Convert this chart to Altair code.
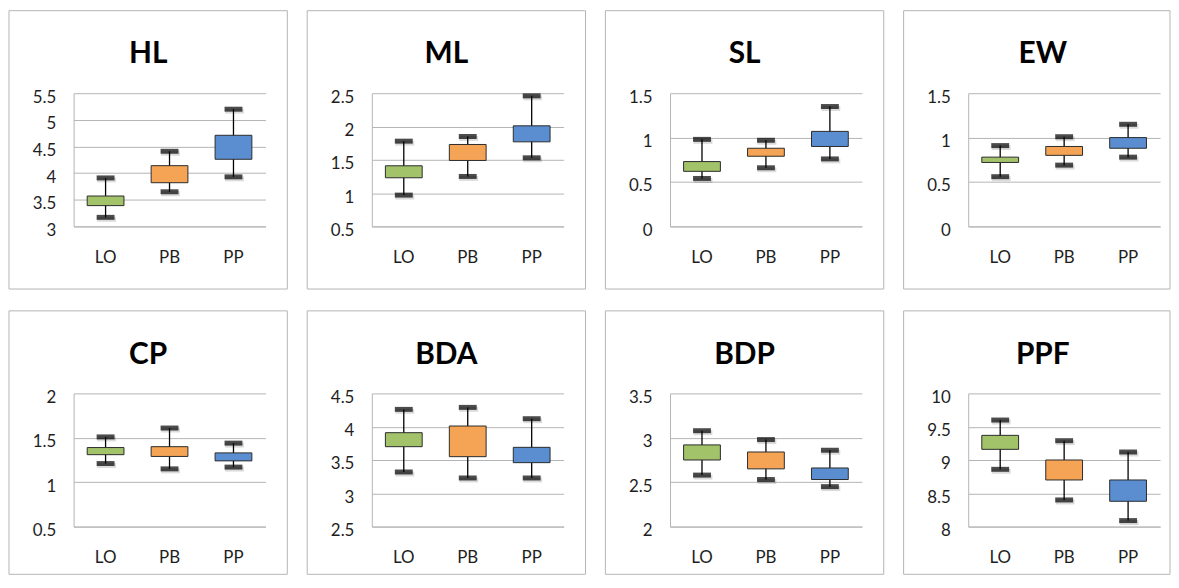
import altair as alt
import pandas as pd

panels = ["HL", "ML", "SL", "EW", "CP", "BDA", "BDP", "PPF"]
groups = ["LO", "PB", "PP"]
colors = ["#a2c36a", "#f5a455", "#5a8ed0"]

y_min = [3, 0.5, 0, 0, 0.5, 2.5, 2, 8]
y_max = [5.5, 2.5, 1.5, 1.5, 2, 4.5, 3.5, 10]
y_step = [0.5, 0.5, 0.5, 0.5, 0.5, 0.5, 0.5, 0.5]

whisker_low = [
    [3.17, 3.65, 3.93],
    [0.97, 1.25, 1.53],
    [0.54, 0.66, 0.76],
    [0.56, 0.69, 0.78],
    [1.21, 1.15, 1.17],
    [3.32, 3.23, 3.23],
    [2.58, 2.53, 2.45],
    [8.86, 8.40, 8.09],
]
box_low = [
    [3.39, 3.82, 4.26],
    [1.23, 1.49, 1.77],
    [0.62, 0.79, 0.90],
    [0.72, 0.80, 0.88],
    [1.31, 1.29, 1.24],
    [3.70, 3.55, 3.46],
    [2.75, 2.65, 2.53],
    [9.16, 8.70, 8.38],
]
box_high = [
    [3.57, 4.14, 4.71],
    [1.41, 1.73, 2.01],
    [0.73, 0.88, 1.07],
    [0.78, 0.90, 1.00],
    [1.39, 1.40, 1.33],
    [3.91, 4.01, 3.69],
    [2.92, 2.84, 2.66],
    [9.37, 9.00, 8.70],
]
whisker_high = [
    [3.91, 4.41, 5.20],
    [1.78, 1.85, 2.46],
    [0.98, 0.97, 1.35],
    [0.91, 1.01, 1.15],
    [1.51, 1.61, 1.44],
    [4.26, 4.29, 4.12],
    [3.08, 2.98, 2.86],
    [9.60, 9.29, 9.12],
]

FONT = "Lato"
PW, PH = 193, 134


def make_panel(i):
    name = panels[i]
    df = pd.DataFrame({
        "group": groups,
        "lo": whisker_low[i],
        "q1": box_low[i],
        "q3": box_high[i],
        "hi": whisker_high[i],
    })
    ticks = []
    v = y_min[i]
    while v <= y_max[i] + 1e-9:
        ticks.append(round(v, 3))
        v += y_step[i]

    x_enc = alt.X(
        "group:N",
        scale=alt.Scale(domain=groups, paddingInner=0, paddingOuter=0),
        axis=alt.Axis(title=None, labelAngle=0, ticks=False, domain=True,
                      domainColor="#b4b4b4", grid=False, labelPadding=23,
                      labelFontSize=17, labelFont=FONT, labelColor="#1e1e1e"),
    )
    y_axis = alt.Axis(title=None, values=ticks, format="~g", grid=True,
                      gridColor="#b4b4b4", domain=True, domainColor="#b4b4b4",
                      ticks=False, labelPadding=18, labelFontSize=17,
                      labelFont=FONT, labelColor="#1e1e1e", labelOffset=4,
                      labelFlush=False, labelOverlap=False)
    y_scale = alt.Scale(domain=[y_min[i], y_max[i]], nice=False, zero=False)

    base = alt.Chart(df)
    whisk = base.mark_rule(color="black", strokeWidth=1.3).encode(
        x=x_enc, y=alt.Y("lo:Q", scale=y_scale, axis=y_axis), y2="hi:Q")
    box = base.mark_bar(size=37, stroke="#2b2b2b", strokeWidth=1).encode(
        x=x_enc, y=alt.Y("q1:Q", scale=y_scale, axis=y_axis), y2="q3:Q",
        color=alt.Color("group:N", scale=alt.Scale(domain=groups, range=colors),
                        legend=None))
    shadow_lo = base.mark_tick(color="black", opacity=0.14, thickness=5, size=19,
                               xOffset=1, yOffset=2).encode(
        x=x_enc, y=alt.Y("lo:Q", scale=y_scale, axis=y_axis))
    shadow_hi = base.mark_tick(color="black", opacity=0.14, thickness=5, size=19,
                               xOffset=1, yOffset=2).encode(
        x=x_enc, y=alt.Y("hi:Q", scale=y_scale, axis=y_axis))
    cap_lo = base.mark_tick(color="black", thickness=5, size=18).encode(
        x=x_enc, y=alt.Y("lo:Q", scale=y_scale, axis=y_axis))
    cap_hi = base.mark_tick(color="black", thickness=5, size=18).encode(
        x=x_enc, y=alt.Y("hi:Q", scale=y_scale, axis=y_axis))

    # panel frame: last column and bottom row are cut by the picture's edge
    right = 215 if i % 4 != 3 else 203
    bottom = 197 if i < 4 else 182
    one = alt.Chart(pd.DataFrame({"panel": [name]}))
    border = one.mark_rect(fillOpacity=0, stroke="#b4b4b4", strokeWidth=1).encode(
        x=alt.value(-65), x2=alt.value(right), y=alt.value(-83), y2=alt.value(bottom))
    title = one.mark_text(fontSize=30, fontWeight="bold", font=FONT,
                          color="black", baseline="middle", align="center").encode(
        x=alt.value(75), y=alt.value(-39), text="panel:N")

    return alt.layer(border, whisk, box, shadow_lo, shadow_hi, cap_lo, cap_hi,
                     title).properties(width=PW, height=PH)


chart = alt.concat(*[make_panel(i) for i in range(8)], columns=4,
                   spacing={"row": 20, "column": 18}).properties(
    padding=0).configure_view(stroke=None)

chart.save("out.html", embed_options={"renderer": "svg", "actions": False})
